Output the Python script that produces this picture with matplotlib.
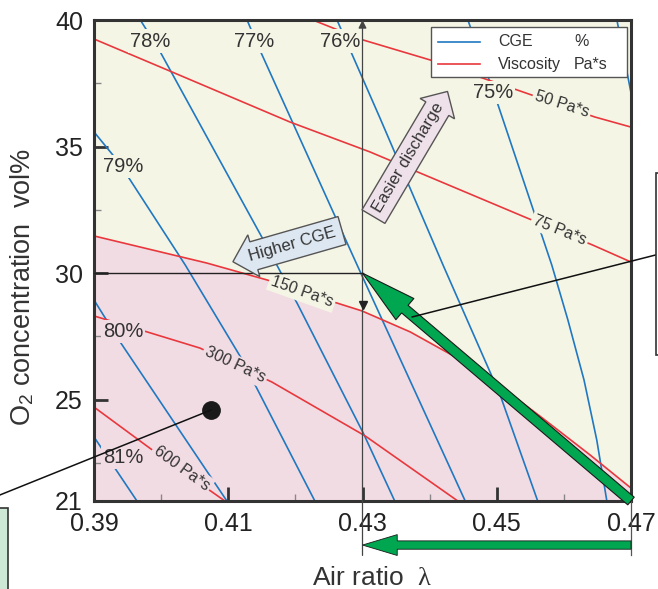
import matplotlib.pyplot as plt
from matplotlib.patches import Rectangle

plt.rcParams['font.family'] = ['Liberation Sans', 'DejaVu Sans']
plt.rcParams['mathtext.fontset'] = 'custom'
plt.rcParams['mathtext.rm'] = 'Liberation Sans'
plt.rcParams['mathtext.it'] = 'Liberation Serif'

# CGE contour lines (%)
cge_levels = [74, 75, 76, 77, 78, 79, 80, 81]
cge_x = [
    [0.4679, 0.4700],
    [0.4457, 0.4502, 0.4582, 0.4606, 0.4630, 0.4649, 0.4664],
    [0.4262, 0.4326, 0.4420, 0.4505, 0.4561],
    [0.4128, 0.4147, 0.4292, 0.4453],
    [0.3969, 0.3997, 0.4159, 0.4204, 0.4301, 0.4348],
    [0.3900, 0.3928, 0.3951, 0.4036, 0.4121, 0.4144, 0.4229],
    [0.3900, 0.3939, 0.4098],
    [0.3900, 0.3964],
]
cge_y = [
    [40.0, 37.12],
    [40.0, 36.64, 30.32, 28.15, 25.78, 23.41, 21.0],
    [40.0, 36.13, 30.32, 25.19, 21.0],
    [40.0, 38.82, 30.32, 21.0],
    [40.0, 38.82, 30.99, 28.74, 23.69, 21.0],
    [35.58, 34.67, 33.80, 30.32, 26.57, 25.38, 21.0],
    [28.94, 27.28, 21.0],
    [23.53, 21.0],
]
cge_label_levels = [75, 76, 77, 78, 79, 80, 81]
cge_label_x = [0.4494, 0.4267, 0.4138, 0.3984, 0.3943, 0.3943, 0.3943]
cge_label_y = [37.12, 39.17, 39.17, 39.17, 34.21, 27.70, 22.72]

# viscosity contour lines (Pa*s)
visc_levels = [50, 75, 150, 300, 600]
visc_x = [
    [0.4226, 0.4301, 0.4401, 0.4530, 0.4646, 0.4700],
    [0.3900, 0.4016, 0.4192, 0.4311, 0.4545, 0.4643, 0.4700],
    [0.3900, 0.4068, 0.4158, 0.4262, 0.4299, 0.4371, 0.4441, 0.4505, 0.4564, 0.4639, 0.4700],
    [0.3900, 0.3979, 0.4058, 0.4165, 0.4304, 0.4442],
    [0.3900, 0.3983, 0.4095],
]
visc_y = [
    [40.0, 39.21, 38.42, 37.24, 36.17, 35.77],
    [39.25, 37.95, 35.97, 34.79, 32.18, 31.11, 30.44],
    [31.47, 30.40, 29.73, 28.82, 28.51, 27.68, 26.65, 25.54, 24.36, 22.82, 21.51],
    [28.31, 27.68, 27.04, 25.70, 23.57, 21.0],
    [24.71, 23.09, 21.0],
]
visc_label_x = [0.4597, 0.4594, 0.4210, 0.4110, 0.4031]
visc_label_y = [36.68, 31.70, 29.26, 26.37, 22.30]
visc_label_rot = [-17.7, -22, -19.6, -25, -36]

x_ticks = [0.39, 0.41, 0.43, 0.45, 0.47]
y_ticks = [21, 25, 30, 35, 40]

target = (0.43, 30)      # new operating point
current = (0.47, 21)     # air-blown operation
base_case = (0.4074, 24.59)

yellow = '#f5f5e6'
pink = '#f2dce4'
blue = '#1f78c1'
red = '#e8383d'
green = '#00a650'

fig = plt.figure(figsize=(6.58, 5.89), dpi=100)
ax = fig.add_axes([94 / 658, 88 / 589, 537 / 658, 481 / 589])
ax.set_xlim(0.39, 0.47)
ax.set_ylim(21, 40)
ax.set_facecolor(yellow)

# region above 150 Pa*s
ax.fill_between(visc_x[2], visc_y[2], 21, color=pink, lw=0, zorder=0.5)

for xs, ys in zip(cge_x, cge_y):
    ax.plot(xs, ys, color=blue, lw=1.2, zorder=2)
for xs, ys in zip(visc_x, visc_y):
    ax.plot(xs, ys, color=red, lw=1.2, zorder=2)

for lev, x, y in zip(cge_label_levels, cge_label_x, cge_label_y):
    bg = pink if lev >= 80 else yellow
    ax.text(x, y, f'{lev}%', fontsize=14.5, color='#333333', ha='center', va='center',
            zorder=3, bbox=dict(boxstyle='square,pad=0.1', fc=bg, ec='none'))
for lev, x, y, r in zip(visc_levels, visc_label_x, visc_label_y, visc_label_rot):
    bg = pink if lev >= 300 else yellow
    ax.text(x, y, f'{lev} Pa*s', fontsize=11.5, color='#333333', ha='center', va='center',
            rotation=r, rotation_mode='anchor', zorder=3,
            bbox=dict(boxstyle='square,pad=0.15', fc=bg, ec='none'))

# guide lines to the operating point
ax.plot([0.39, target[0]], [target[1], target[1]], color='#222222', lw=1, zorder=4)
ax.annotate('', xy=(0.43, 40), xytext=(0.43, 18.85), annotation_clip=False,
            arrowprops=dict(arrowstyle='-|>', color='#444444', lw=0.9, shrinkA=0, shrinkB=0,
                            mutation_scale=12), zorder=4)
ax.plot([0.47, 0.47], [21, 18.85], color='#555555', lw=0.9, clip_on=False, zorder=4)
ax.plot(0.43, 28.74, marker='v', ms=6, color='#222222', zorder=4)

# green arrows
ax.annotate('', xy=target, xytext=current, annotation_clip=False,
            arrowprops=dict(arrowstyle='simple,head_length=2.0,head_width=1.0,tail_width=0.36',
                            mutation_scale=20, fc=green, ec='#1a1a1a', lw=0.8,
                            shrinkA=0, shrinkB=0), zorder=5)
ax.annotate('', xy=(0.43, 19.26), xytext=(0.47, 19.26), annotation_clip=False,
            arrowprops=dict(arrowstyle='simple,head_length=1.25,head_width=0.75,tail_width=0.3',
                            mutation_scale=20, fc=green, ec='#1a1a1a', lw=0.6,
                            shrinkA=0, shrinkB=0), zorder=5)

# block arrows
ax.text(0.4195, 31.12, 'Higher CGE', fontsize=12, color='#333333', rotation=16,
        rotation_mode='anchor', ha='center', va='center', zorder=5,
        bbox=dict(boxstyle='larrow,pad=0.42', fc='#dde7f1', ec='#555555', lw=1))
ax.text(0.4368, 34.55, 'Easier discharge', fontsize=12, color='#333333', rotation=59.4,
        rotation_mode='anchor', ha='center', va='center', zorder=5,
        bbox=dict(boxstyle='rarrow,pad=0.35', fc='#efe1ea', ec='#555555', lw=1))

# callouts
ax.plot(*base_case, 'o', ms=12.5, color='#1a1a1a', zorder=6)
ax.plot([base_case[0], 0.3760], [base_case[1], 21.24], color='#111111', lw=1.1,
        clip_on=False, zorder=6)
ax.plot([0.4374, 0.4737], [28.27, 30.72], color='#111111', lw=1.1, clip_on=False, zorder=6)
fig.add_artist(Rectangle((-0.02, -0.02), 0.02 + 8 / 658, 0.02 + 81 / 589,
                         transform=fig.transFigure, fc='#cde8d5', ec='#333333', lw=1.2))
fig.add_artist(Rectangle((656 / 658, 234 / 589), 0.05, 182 / 589,
                         transform=fig.transFigure, fc='white', ec='#333333', lw=1.2))

# legend drawn by hand
ax.add_patch(Rectangle((0.6276, 0.8815), 0.365, 0.104, transform=ax.transAxes,
                       fc='white', ec='#555555', lw=1, zorder=7))
ax.plot([0.6406, 0.7188], [0.9543, 0.9543], color=blue, lw=1.2, transform=ax.transAxes, zorder=8)
ax.plot([0.6406, 0.7188], [0.9085, 0.9085], color=red, lw=1.2, transform=ax.transAxes, zorder=8)
for yy, name, unit in [(0.9543, 'CGE', '%'), (0.9085, 'Viscosity', 'Pa*s')]:
    ax.text(0.7523, yy, name, transform=ax.transAxes, fontsize=11.5, color='#333333',
            va='center', zorder=8)
    ax.text(0.8939, yy, unit, transform=ax.transAxes, fontsize=11.5, color='#333333',
            va='center', zorder=8)

# axes styling
ax.set_xticks(x_ticks)
ax.set_xticklabels([f'{v:.2f}' for v in x_ticks])
ax.set_yticks(y_ticks)
ax.set_xticks([0.40, 0.42, 0.44, 0.46], minor=True)
ax.set_yticks([22.5, 27.5, 32.5, 37.5], minor=True)
ax.tick_params(which='major', direction='in', length=10, width=2, color='#333333',
               labelsize=18, labelcolor='#222222', pad=8)
ax.tick_params(which='minor', direction='in', length=5, width=1, color='#888888')
for s in ax.spines.values():
    s.set_linewidth(2.2)
    s.set_color('#333333')

ax.set_xlabel('Air ratio  $\\lambda$', fontsize=19, color='#333333')
ax.set_ylabel('O$_2$ concentration  vol%', fontsize=19.5, color='#333333')
ax.xaxis.set_label_coords(0.518, -0.135)
ax.yaxis.set_label_coords(-0.108, 0.445)

fig.savefig('out.png', dpi=100)
